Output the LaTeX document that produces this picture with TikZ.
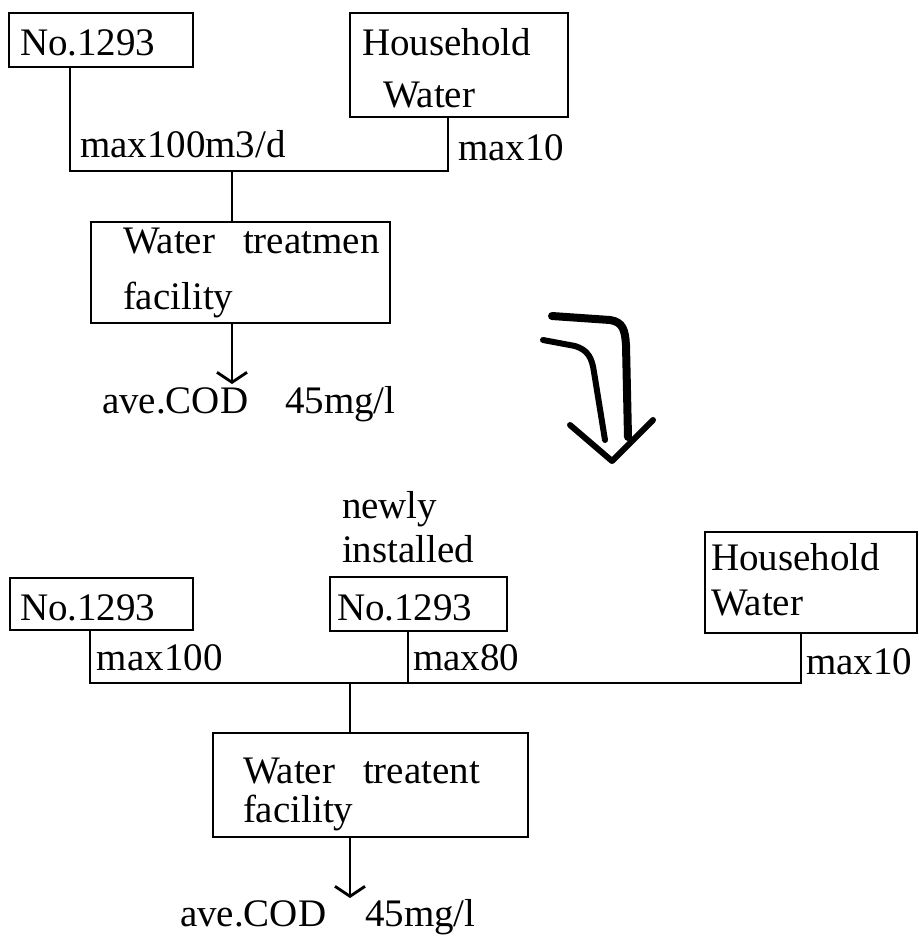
\documentclass[tikz,border=0pt]{standalone}
\usepackage{fontspec}
\setmainfont{Liberation Serif}
\usetikzlibrary{arrows.meta,fit}
\begin{document}
\begin{tikzpicture}[x=0.5pt,y=-0.5pt,
  box/.style={draw, line width=0.7pt, inner sep=0pt, outer sep=0pt},
  txt/.style={inner sep=0pt, outer sep=0pt, anchor=base west, font=\fontsize{19.5pt}{22pt}\selectfont},
  wire/.style={line width=0.6pt},
  flow/.style={wire, -{Straight Barb[length=5pt,width=15pt,line width=1.4pt]}},
  pen/.style={line width=#1, line cap=round, line join=round}]
\useasboundingbox (0,0) rectangle (919,938);

% ---------- top diagram ----------
\node[box, fit={(9,13)(193,67)}] (a1) {};
\node[box, fit={(350,13)(568,117)}] (h1) {};
\node[box, fit={(91,222)(390,323)}] (t1) {};

\node[txt] (a1t) at (20,55) {No.1293};
\node[txt] (h1t) at (362,55) {Household};
\node[txt] (h1u) at (383,107) {Water};
\node[txt] (t1t) at (123,253) {Water\hspace{14pt}treatmen};
\node[txt] (t1u) at (123,309) {facility};
\node[txt] (q1) at (80,157) {max100m3/d};
\node[txt] (q2) at (458,160) {max10};

\coordinate (j1) at (70,171);
\coordinate (j2) at (448,171);
\coordinate (j3) at (232,171);
\draw[wire] (a1.south -| j1) -- (j1) -- (j2) -- (h1.south -| j2);
\draw[wire] (j3) -- (t1.north -| j3);
\coordinate (o1) at (232,384);
\draw[flow] (t1.south -| o1) -- (o1);
\node[txt] (c1) at (102,413) {ave.COD};
\node[txt] (c1v) at (285,413) {45mg/l};

% ---------- hand-drawn arrow ----------
\draw[pen=4pt] (552,316) -- (610,320) .. controls (623,322) and (625,330) .. (626,345) -- (628,437);
\draw[pen=3pt] (543,340) -- (575,346) .. controls (588,350) and (592,358) .. (594,372) -- (605,440);
\draw[pen=3pt] (570,425) -- (612,461) -- (653,420);

% ---------- bottom diagram ----------
\node[txt] (n1) at (342,518) {newly};
\node[txt] (n2) at (342,562) {installed};
\node[box, fit={(10,578)(193,630)}] (b1) {};
\node[box, fit={(330,577)(507,631)}] (b2) {};
\node[box, fit={(705,532)(917,633)}] (b3) {};
\node[box, fit={(213,733)(528,837)}] (t2) {};

\node[txt] (b1t) at (20,620) {No.1293};
\node[txt] (b2t) at (337,620) {No.1293};
\node[txt] (b3t) at (711,570) {Household};
\node[txt] (b3u) at (711,615) {Water};
\node[txt] (t2t) at (243,783) {Water\hspace{14pt}treatent};
\node[txt] (t2u) at (243,822) {facility};
\node[txt] (m1) at (97,670) {max100};
\node[txt] (m2) at (413,670) {max80};
\node[txt] (m3) at (806,674) {max10};

\coordinate (k1) at (90,683);
\coordinate (k2) at (408,683);
\coordinate (k3) at (801,683);
\coordinate (k4) at (350,683);
\draw[wire] (b1.south -| k1) -- (k1) -- (k3) -- (b3.south -| k3);
\draw[wire] (b2.south -| k2) -- (k2);
\draw[wire] (k4) -- (t2.north -| k4);
\coordinate (o2) at (350,898);
\draw[flow] (t2.south -| o2) -- (o2);
\node[txt] (c2) at (180,926) {ave.COD};
\node[txt] (c2v) at (365,926) {45mg/l};
\end{tikzpicture}
\end{document}
